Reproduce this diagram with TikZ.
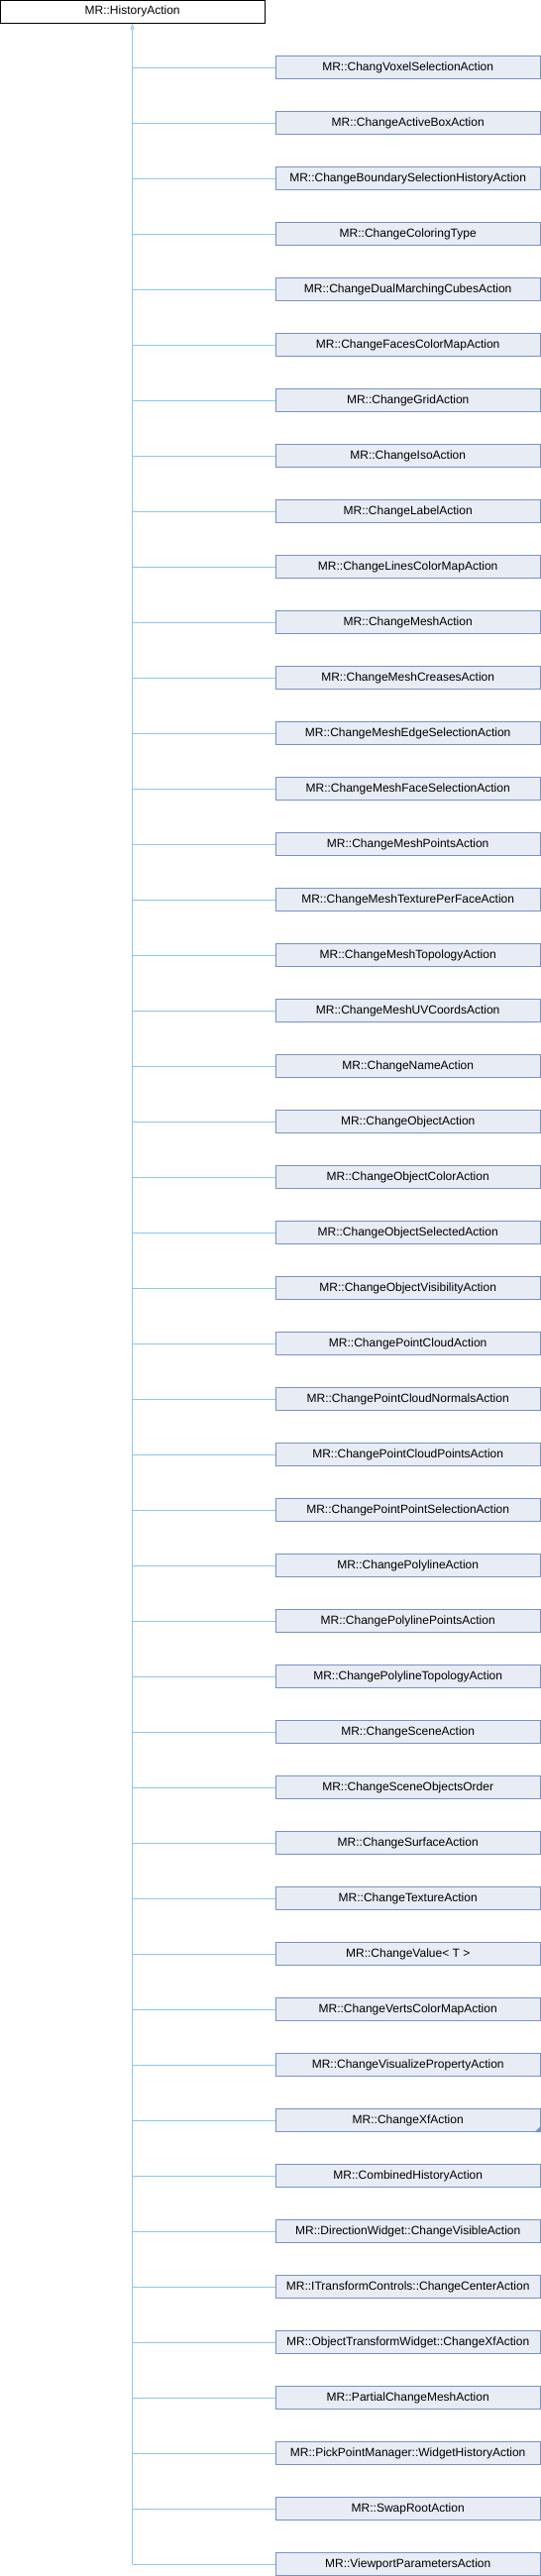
\documentclass[tikz,border=0pt]{standalone}
\usepackage{fontspec}
\setmainfont{Liberation Sans}
\usetikzlibrary{arrows.meta}
\definecolor{classfill}{RGB}{232,236,244}
\definecolor{classline}{RGB}{120,146,202}
\definecolor{linkblue}{RGB}{140,200,235}
\tikzstyle{base}=[draw=black,fill=white,line width=1pt,minimum width=267pt,minimum height=23pt,inner sep=0pt,font=\fontsize{12}{14}\selectfont]
\tikzstyle{derived}=[base,draw=classline,fill=classfill]
\tikzstyle{link}=[draw=linkblue,line width=1pt]

\begin{document}
\begin{tikzpicture}[x=1pt,y=-1pt]
\useasboundingbox (0,0) rectangle (546,2600);
\node[base] at (133.6, 11.7) (root) {MR::HistoryAction};
\node[derived] at (411.7, 68) (c1) {MR::ChangVoxelSelectionAction};
\node[derived] at (411.7, 124) (c2) {MR::ChangeActiveBoxAction};
\node[derived] at (411.7, 180) (c3) {MR::ChangeBoundarySelectionHistoryAction};
\node[derived] at (411.7, 236) (c4) {MR::ChangeColoringType};
\node[derived] at (411.7, 292) (c5) {MR::ChangeDualMarchingCubesAction};
\node[derived] at (411.7, 348) (c6) {MR::ChangeFacesColorMapAction};
\node[derived] at (411.7, 404) (c7) {MR::ChangeGridAction};
\node[derived] at (411.7, 460) (c8) {MR::ChangeIsoAction};
\node[derived] at (411.7, 516) (c9) {MR::ChangeLabelAction};
\node[derived] at (411.7, 572) (c10) {MR::ChangeLinesColorMapAction};
\node[derived] at (411.7, 628) (c11) {MR::ChangeMeshAction};
\node[derived] at (411.7, 684) (c12) {MR::ChangeMeshCreasesAction};
\node[derived] at (411.7, 740) (c13) {MR::ChangeMeshEdgeSelectionAction};
\node[derived] at (411.7, 796) (c14) {MR::ChangeMeshFaceSelectionAction};
\node[derived] at (411.7, 852) (c15) {MR::ChangeMeshPointsAction};
\node[derived] at (411.7, 908) (c16) {MR::ChangeMeshTexturePerFaceAction};
\node[derived] at (411.7, 964) (c17) {MR::ChangeMeshTopologyAction};
\node[derived] at (411.7, 1020) (c18) {MR::ChangeMeshUVCoordsAction};
\node[derived] at (411.7, 1076) (c19) {MR::ChangeNameAction};
\node[derived] at (411.7, 1132) (c20) {MR::ChangeObjectAction};
\node[derived] at (411.7, 1188) (c21) {MR::ChangeObjectColorAction};
\node[derived] at (411.7, 1244) (c22) {MR::ChangeObjectSelectedAction};
\node[derived] at (411.7, 1300) (c23) {MR::ChangeObjectVisibilityAction};
\node[derived] at (411.7, 1356) (c24) {MR::ChangePointCloudAction};
\node[derived] at (411.7, 1412) (c25) {MR::ChangePointCloudNormalsAction};
\node[derived] at (411.7, 1468) (c26) {MR::ChangePointCloudPointsAction};
\node[derived] at (411.7, 1524) (c27) {MR::ChangePointPointSelectionAction};
\node[derived] at (411.7, 1580) (c28) {MR::ChangePolylineAction};
\node[derived] at (411.7, 1636) (c29) {MR::ChangePolylinePointsAction};
\node[derived] at (411.7, 1692) (c30) {MR::ChangePolylineTopologyAction};
\node[derived] at (411.7, 1748) (c31) {MR::ChangeSceneAction};
\node[derived] at (411.7, 1804) (c32) {MR::ChangeSceneObjectsOrder};
\node[derived] at (411.7, 1860) (c33) {MR::ChangeSurfaceAction};
\node[derived] at (411.7, 1916) (c34) {MR::ChangeTextureAction};
\node[derived] at (411.7, 1972) (c35) {MR::ChangeValue< T >};
\node[derived] at (411.7, 2028) (c36) {MR::ChangeVertsColorMapAction};
\node[derived] at (411.7, 2084) (c37) {MR::ChangeVisualizePropertyAction};
\node[derived] at (411.7, 2140) (c38) {MR::ChangeXfAction};
\node[derived] at (411.7, 2196) (c39) {MR::CombinedHistoryAction};
\node[derived] at (411.7, 2252) (c40) {MR::DirectionWidget::ChangeVisibleAction};
\node[derived] at (411.7, 2308) (c41) {MR::ITransformControls::ChangeCenterAction};
\node[derived] at (411.7, 2364) (c42) {MR::ObjectTransformWidget::ChangeXfAction};
\node[derived] at (411.7, 2420) (c43) {MR::PartialChangeMeshAction};
\node[derived] at (411.7, 2476) (c44) {MR::PickPointManager::WidgetHistoryAction};
\node[derived] at (411.7, 2532) (c45) {MR::SwapRootAction};
\node[derived] at (411.7, 2588) (c46) {MR::ViewportParametersAction};
% marker for a class with more derived classes
\fill[classline] (c38.south east) -- ++(-6,0) -- ++(6,-6) -- cycle;
% inheritance lines
\draw[link,{Triangle[open,length=6pt,width=4pt]}-] (root.south) -- (c46.west -| root.south);
\foreach \i in {1,...,46}
  \draw[link] (c\i.west) -- (c\i.west -| root.south);
\end{tikzpicture}
\end{document}
